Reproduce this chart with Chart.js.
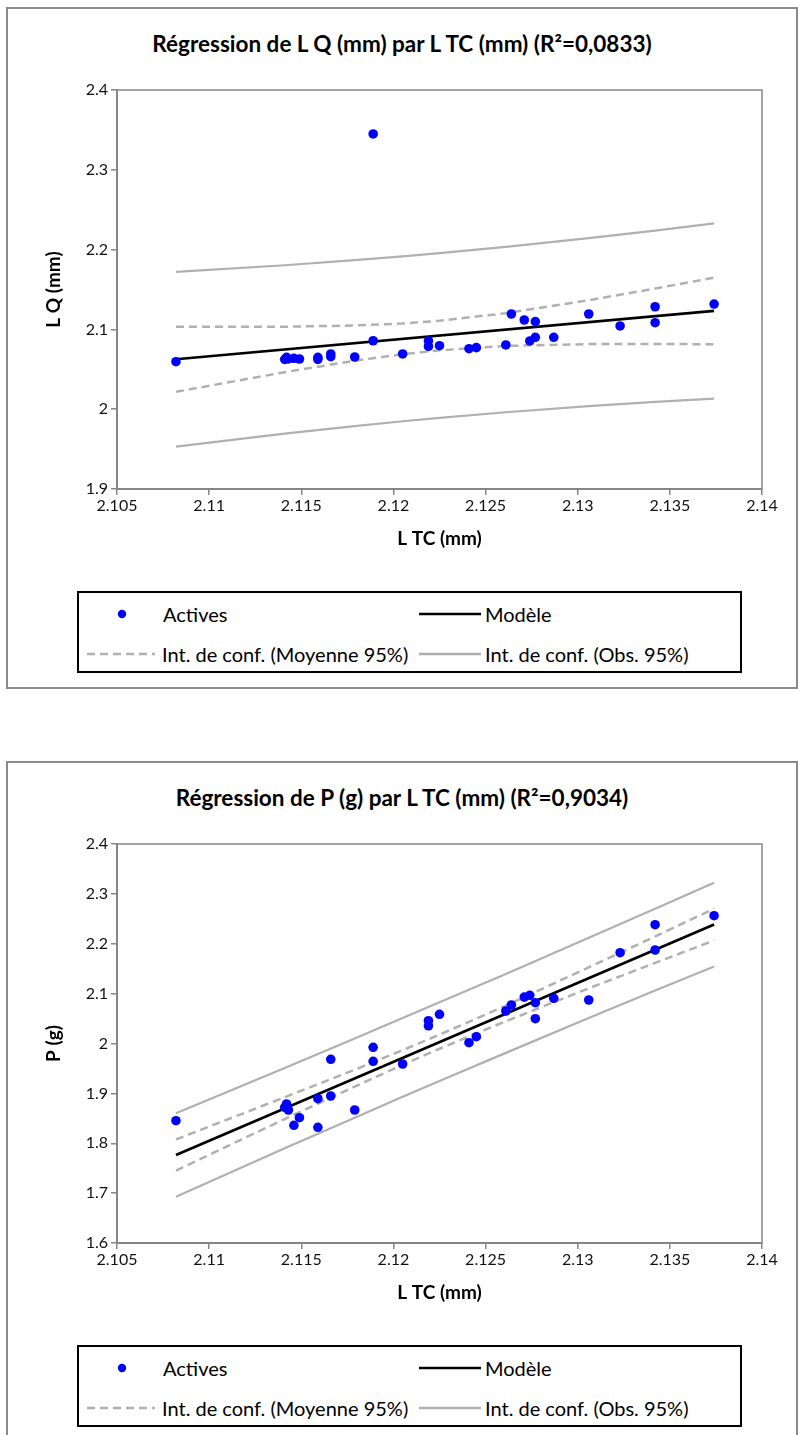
<!DOCTYPE html>
<html><head><meta charset="utf-8">
<script src="https://cdn.jsdelivr.net/npm/chart.js@4.4.0/dist/chart.umd.min.js"></script>
<style>
body{margin:0;background:#fff;width:798px;height:1435px;overflow:hidden;position:relative;font-family:Lato, sans-serif;}
.frame{position:absolute;left:6px;width:788px;border:2px solid #8a8a8a;}
.title{position:absolute;left:6px;width:792px;text-align:center;font-weight:bold;font-size:22.5px;line-height:26px;color:#000;white-space:nowrap;}
.cv{position:absolute;left:0;}
.legend{position:absolute;left:77px;width:661px;height:78px;border:2px solid #000;background:#fff;}
.legend svg{position:absolute;left:0;top:0;}
.lg{position:absolute;font-size:20px;line-height:24px;white-space:nowrap;color:#000;}
</style></head>
<body>
<div class="frame" style="top:7px;height:678px;"></div>
<div class="frame" style="top:761px;height:700px;"></div>
<div class="title" id="t1" style="top:31px;"></div>
<div class="title" id="t2" style="top:785px;"></div>
<canvas id="c1" class="cv" width="798" height="690" style="top:0px;"></canvas>
<canvas id="c2" class="cv" width="798" height="690" style="top:754px;"></canvas>
<div class="legend" id="lg1" style="top:591px;"></div>
<div class="legend" id="lg2" style="top:1345px;"></div>
<script>
// ---- data ----
const ltc = [2.1082, 2.1141, 2.1142, 2.1143, 2.1146, 2.1149, 2.1159, 2.1159, 2.1166, 2.1166, 2.1179, 2.1189, 2.1189, 2.1205, 2.1219, 2.1219, 2.1225, 2.1241, 2.1245, 2.1261, 2.1264, 2.1271, 2.1274, 2.1277, 2.1277, 2.1287, 2.1306, 2.1323, 2.1342, 2.1342, 2.1374];
const lq = [2.0595, 2.0625, 2.0650, 2.0630, 2.0638, 2.0629, 2.0650, 2.0625, 2.0692, 2.0658, 2.0654, 2.0858, 2.3449, 2.0692, 2.0855, 2.0786, 2.0796, 2.0758, 2.0771, 2.0805, 2.1193, 2.1118, 2.0855, 2.1097, 2.0901, 2.0901, 2.1193, 2.1043, 2.1284, 2.1084, 2.1318];
const pg = [1.8452, 1.8721, 1.8787, 1.8667, 1.8360, 1.8512, 1.8893, 1.8320, 1.9683, 1.8947, 1.8667, 1.9924, 1.9643, 1.9589, 2.0457, 2.0355, 2.0585, 2.0016, 2.0136, 2.0652, 2.0772, 2.0930, 2.0966, 2.0818, 2.0497, 2.0906, 2.0872, 2.1820, 2.2382, 2.1875, 2.2562];

const modelX = [2.1082, 2.1374];
const lqModel = [2.0626, 2.1231];
const pModel = [1.7764, 2.2385];

const bandX = [2.1082, 2.1141, 2.1179, 2.1205, 2.1225, 2.1261, 2.1306, 2.1342, 2.1374];
const lqObsUp = [2.1720, 2.1804, 2.1867, 2.1916, 2.1955, 2.2034, 2.2143, 2.2238, 2.2329];
const lqMeanUp = [2.1034, 2.1034, 2.1049, 2.1075, 2.1108, 2.1203, 2.1366, 2.1512, 2.1648];
const lqMeanLo = [2.0218, 2.0464, 2.0607, 2.0689, 2.0738, 2.0793, 2.0816, 2.0818, 2.0814];
const lqObsLo = [1.9532, 1.9694, 1.9789, 1.9849, 1.9891, 1.9962, 2.0039, 2.0092, 2.0133];
const pObsUp = [1.8600, 1.9510, 2.0099, 2.0510, 2.0825, 2.1394, 2.2121, 2.2701, 2.3224];
const pMeanUp = [1.8076, 1.8922, 1.9474, 1.9867, 2.0177, 2.0760, 2.1527, 2.2146, 2.2704];
const pMeanLo = [1.7452, 1.8486, 1.9136, 1.9573, 1.9895, 2.0446, 2.1107, 2.1616, 2.2066];
const pObsLo = [1.6928, 1.7898, 1.8511, 1.8930, 1.9247, 1.9812, 2.0513, 2.1061, 2.1546];

const xTicks = [2.105, 2.11, 2.115, 2.12, 2.125, 2.13, 2.135, 2.14];
const xTickLabels = ['2.105', '2.11', '2.115', '2.12', '2.125', '2.13', '2.135', '2.14'];
const lqTicks = [1.9, 2, 2.1, 2.2, 2.3, 2.4];
const lqTickLabels = ['1.9', '2', '2.1', '2.2', '2.3', '2.4'];
const pTicks = [1.6, 1.7, 1.8, 1.9, 2, 2.1, 2.2, 2.3, 2.4];
const pTickLabels = ['1.6', '1.7', '1.8', '1.9', '2', '2.1', '2.2', '2.3', '2.4'];

const title1 = 'Régression de L Q (mm) par L TC (mm) (R²=0,0833)';
const title2 = 'Régression de P (g) par L TC (mm) (R²=0,9034)';
const xTitle = 'L TC (mm)';
const yTitle1 = 'L Q (mm)';
const yTitle2 = 'P (g)';
const legendLabels = ['Actives', 'Modèle', 'Int. de conf. (Moyenne 95%)', 'Int. de conf. (Obs. 95%)'];

// ---- drawing ----
const AX = '#868686', BAND = '#b0b0b0', BLUE = '#0000ff';
const pts = (xs, ys) => xs.map((x, i) => ({x, y: ys[i]}));

const plotBorder = {
  id: 'plotBorder',
  beforeDatasetsDraw(chart) {
    const {ctx, chartArea: a} = chart;
    ctx.save();
    ctx.strokeStyle = AX; ctx.lineWidth = 1.5;
    ctx.strokeRect(a.left, a.top, a.right - a.left, a.bottom - a.top);
    ctx.restore();
  }
};

function makeChart(id, ys, model, obsUp, meanUp, meanLo, obsLo, yT, yL, yMin, yMax, yTitle) {
  const lineDs = (data, color, width, dash) => ({
    data, showLine: true, borderColor: color, borderWidth: width, borderDash: dash,
    pointRadius: 0, pointHoverRadius: 0, fill: false, tension: 0
  });
  new Chart(document.getElementById(id), {
    type: 'scatter',
    data: {
      datasets: [
        {data: pts(ltc, ys), backgroundColor: BLUE, borderColor: BLUE, borderWidth: 0, pointRadius: 4.8, showLine: false},
        lineDs(pts(modelX, model), '#000', 2.7, []),
        lineDs(pts(bandX, meanUp), BAND, 2.5, [8, 5]),
        lineDs(pts(bandX, meanLo), BAND, 2.5, [8, 5]),
        lineDs(pts(bandX, obsUp), BAND, 2.2, []),
        lineDs(pts(bandX, obsLo), BAND, 2.2, [])
      ]
    },
    options: {
      responsive: false, animation: false, devicePixelRatio: 1,
      layout: {padding: {left: 7, top: 90, right: 36, bottom: 140}},
      plugins: {legend: {display: false}, title: {display: false}, tooltip: {enabled: false}},
      events: [],
      scales: {
        x: {
          type: 'linear', min: 2.105, max: 2.14,
          afterBuildTicks: s => { s.ticks = xTicks.map(v => ({value: v})); },
          afterFit: s => { s.height = 61; },
          grid: {display: true, drawOnChartArea: false, drawTicks: true, tickLength: 6, color: AX, lineWidth: 1.5},
          border: {display: true, color: AX, width: 2},
          ticks: {autoSkip: false, maxRotation: 0, padding: 1, color: '#111', font: {family: 'Lato', size: 16},
                  callback: (v, i) => xTickLabels[i]},
          title: {display: true, text: xTitle, color: '#000', font: {family: 'Lato', size: 19, weight: 'bold'}, padding: {top: 0, bottom: 0}}
        },
        y: {
          type: 'linear', min: yMin, max: yMax,
          afterBuildTicks: s => { s.ticks = yT.map(v => ({value: v})); },
          afterFit: s => { s.width = 110; },
          grid: {display: true, drawOnChartArea: false, drawTicks: true, tickLength: 6, color: AX, lineWidth: 1.5},
          border: {display: true, color: AX, width: 2},
          ticks: {autoSkip: false, padding: 3, color: '#111', font: {family: 'Lato', size: 16},
                  callback: (v, i) => yL[i]},
          title: {display: true, text: yTitle, color: '#000', font: {family: 'Lato', size: 19, weight: 'bold'}, padding: {top: 35, bottom: 0}}
        }
      }
    },
    plugins: [plotBorder]
  });
}

function makeLegend(id) {
  const el = document.getElementById(id);
  el.innerHTML =
    '<svg width="661" height="78">' +
    '<circle cx="43" cy="21" r="4.2" fill="' + BLUE + '"/>' +
    '<line x1="340" y1="21" x2="402" y2="21" stroke="#000" stroke-width="2.7"/>' +
    '<line x1="8" y1="61" x2="76" y2="61" stroke="' + BAND + '" stroke-width="2.5" stroke-dasharray="8 5"/>' +
    '<line x1="340" y1="61" x2="402" y2="61" stroke="' + BAND + '" stroke-width="2.5"/>' +
    '</svg>';
  const items = [[84, 9, legendLabels[0]], [406, 9, legendLabels[1]], [83, 49, legendLabels[2]], [406, 49, legendLabels[3]]];
  items.forEach(([l, t, txt]) => {
    const s = document.createElement('div');
    s.className = 'lg'; s.style.left = l + 'px'; s.style.top = t + 'px'; s.textContent = txt;
    el.appendChild(s);
  });
}

document.getElementById('t1').textContent = title1;
document.getElementById('t2').textContent = title2;
makeChart('c1', lq, lqModel, lqObsUp, lqMeanUp, lqMeanLo, lqObsLo, lqTicks, lqTickLabels, 1.9, 2.4, yTitle1);
makeChart('c2', pg, pModel, pObsUp, pMeanUp, pMeanLo, pObsLo, pTicks, pTickLabels, 1.6, 2.4, yTitle2);
makeLegend('lg1');
makeLegend('lg2');
</script>
</body></html>
